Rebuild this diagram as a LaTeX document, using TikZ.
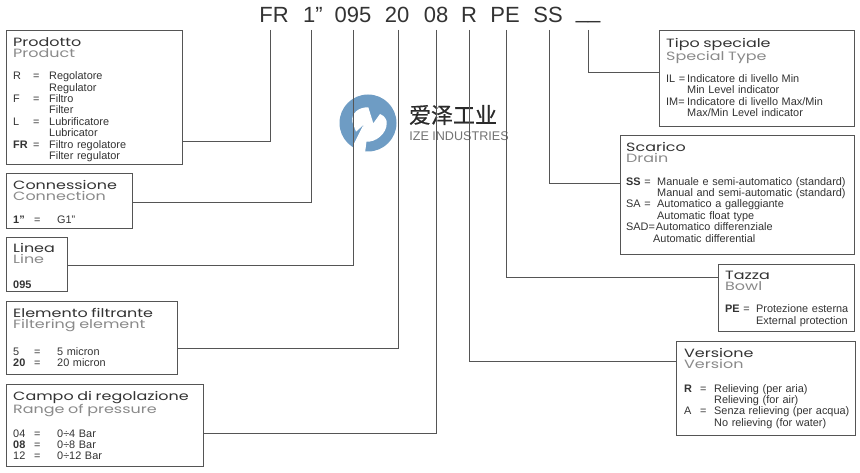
\documentclass[tikz,border=0pt]{standalone}
\usepackage{fontspec}
\setmainfont{Liberation Sans}
\newfontfamily\hdfont[FakeStretch=1.33]{Poppins}
\newfontfamily\cjkfont[FakeBold=0.6]{Noto Sans CJK SC}
\definecolor{linec}{HTML}{555555}
\definecolor{txt}{HTML}{333333}
\definecolor{subt}{HTML}{8A8A8A}
\definecolor{logob}{HTML}{6E9CC4}
\newcommand{\hd}[3][11.6pt]{{\hdfont\fontsize{12}{13}\selectfont\color{txt}#2\\[-0.4pt]\color{subt}#3}\\[#1]}
\tikzset{
 box/.style={draw=linec,line width=1pt,anchor=north west,inner sep=0pt},
 boxtext/.style={anchor=north west,inner sep=0pt,text width=240pt,align=left,text=txt,font=\fontsize{10.9}{11.4}\selectfont},
 code/.style={anchor=south,inner sep=0pt,text height=16pt,text depth=7.7pt,text=txt,font=\fontsize{22}{22}\selectfont},
 conn/.style={draw=linec,line width=0.9pt},
}
\begin{document}
\begin{tikzpicture}[x=1pt,y=-1pt]
\useasboundingbox (0,0) rectangle (860,473);
\fill[white] (0,0) rectangle (860,473);
% logo
\fill[logob] (368,123) circle (28.5);
\fill[white] (352.3,121.7) .. controls (351,113) and (359,107) .. (368.3,107.3) -- (373.3,123.3) -- (380,114) .. controls (385,116) and (387,120) .. (386.7,123.3) .. controls (387,133) and (376,143) .. (365,141.7) -- (363.3,125) -- (356,131.7) -- cycle;
\fill[white] (363.3,125) -- (353.3,145) -- (354.3,153) -- (365,153) -- (366.7,140) -- cycle;
\node[inner sep=0pt,text=txt!85!black,font=\cjkfont\fontsize{22}{22}\selectfont] (cn) at (453,115) {爱泽工业};
\node[inner sep=0pt,text=black!55,font=\fontsize{12.6}{14}\selectfont] (en) at (459,136) {IZE INDUSTRIES};
% codes
\node[code] (fr) at (274,30) {FR};
\node[code] (one) at (313,30) {1”};
\node[code] (c095) at (353,30) {095};
\node[code] (c20) at (397,30) {20};
\node[code] (c08) at (436,30) {08};
\node[code] (cr) at (469,30) {R};
\node[code] (cpe) at (505,30) {PE};
\node[code] (css) at (548,30) {SS};
\node[code] (cblank) at (588,30) {\raisebox{4pt}{\_\_}};
% boxes
\node[box,minimum width=176pt,minimum height=134pt] (prod) at (6,30) {};
\node[box,minimum width=126pt,minimum height=55pt] (connb) at (6,173) {};
\node[box,minimum width=61pt,minimum height=54pt] (lin) at (6,237) {};
\node[box,minimum width=171pt,minimum height=73pt] (elem) at (6,301) {};
\node[box,minimum width=197pt,minimum height=82pt] (camp) at (6,384) {};
\node[box,minimum width=195pt,minimum height=96pt] (tipo) at (659,30) {};
\node[box,minimum width=234pt,minimum height=119pt] (scar) at (620,135) {};
\node[box,minimum width=136pt,minimum height=67pt] (tazz) at (718,264) {};
\node[box,minimum width=179pt,minimum height=94pt] (vers) at (676,341) {};
% box text
\node[boxtext] (tprod) at (13,37) {\hd[13.6pt]{Prodotto}{Product}\begin{tabular}{@{}p{20pt}@{}p{16pt}@{}l@{}}R&=&Regolatore\\&&Regulator\\F&=&Filtro\\&&Filter\\L&=&Lubrificatore\\&&Lubricator\\\textbf{FR}&=&Filtro regolatore\\&&Filter regulator\end{tabular}};
\node[boxtext] (tconn) at (13,180) {\hd[12.6pt]{Connessione}{Connection}\begin{tabular}{@{}p{21pt}@{}p{23pt}@{}l@{}}\textbf{1"}&=&G1"\end{tabular}};
\node[boxtext] (tlin) at (13,243) {\hd[13.6pt]{Linea}{Line}\textbf{095}};
\node[boxtext] (telem) at (13,308) {\hd[14.6pt]{Elemento filtrante}{Filtering element}\begin{tabular}{@{}p{21pt}@{}p{23pt}@{}l@{}}5&=&5 micron\\\textbf{20}&=&20 micron\end{tabular}};
\node[boxtext] (tcamp) at (13,391) {\hd{Campo di regolazione}{Range of pressure}\begin{tabular}{@{}p{21pt}@{}p{23pt}@{}l@{}}04&=&0÷4 Bar\\\textbf{08}&=&0÷8 Bar\\12&=&0÷12 Bar\end{tabular}};
\node[boxtext] (ttipo) at (666,38) {\hd[10.2pt]{Tipo speciale}{Special Type}\begin{tabular}{@{}p{21pt}@{}l@{}}IL =&Indicatore di livello Min\\&Min Level indicator\\IM=&Indicatore di livello Max/Min\\&Max/Min Level indicator\end{tabular}};
\node[boxtext] (tscar) at (626,142) {\hd[13.6pt]{Scarico}{Drain}\begin{tabular}{@{}p{31pt}@{}l@{}}\textbf{SS} =&Manuale e semi-automatico (standard)\\&Manual and semi-automatic (standard)\\SA =&Automatico a galleggiante\\&Automatic float type\\\multicolumn{2}{@{}l@{}}{SAD=\hspace{1pt}Automatico differenziale}\\\multicolumn{2}{@{}l@{}}{\hspace{27pt}Automatic differential}\end{tabular}};
\node[boxtext] (ttazz) at (725,271) {\hd[13pt]{Tazza}{Bowl}\begin{tabular}{@{}p{31pt}@{}l@{}}\textbf{PE} =&Protezione esterna\\&External protection\end{tabular}};
\node[boxtext] (tvers) at (684,348) {\hd[14.6pt]{Versione}{Version}\begin{tabular}{@{}p{16pt}@{}p{14pt}@{}l@{}}\textbf{R}&=&Relieving (per aria)\\&&Relieving (for air)\\A&=&Senza relieving (per acqua)\\&&No relieving (for water)\end{tabular}};
% connectors
\draw[conn] ([xshift=-4pt]fr.south) |- ([yshift=-44pt]prod.east);
\draw[conn] ([xshift=-2pt]one.south) |- ([yshift=-1.5pt]connb.east);
\draw[conn] (c095.south) |- ([yshift=-1pt]lin.east);
\draw[conn] ([xshift=1pt]c20.south) |- ([yshift=-10.5pt]elem.east);
\draw[conn] (c08.south) |- ([yshift=-8pt]camp.east);
\draw[conn] (cr.south) |- ([yshift=27pt]vers.west);
\draw[conn] ([xshift=1pt]cpe.south) |- ([yshift=20.5pt]tazz.west);
\draw[conn] ([xshift=1pt]css.south) |- ([yshift=11.5pt]scar.west);
\draw[conn] (cblank.south) |- ([yshift=6pt]tipo.west);
\end{tikzpicture}
\end{document}
